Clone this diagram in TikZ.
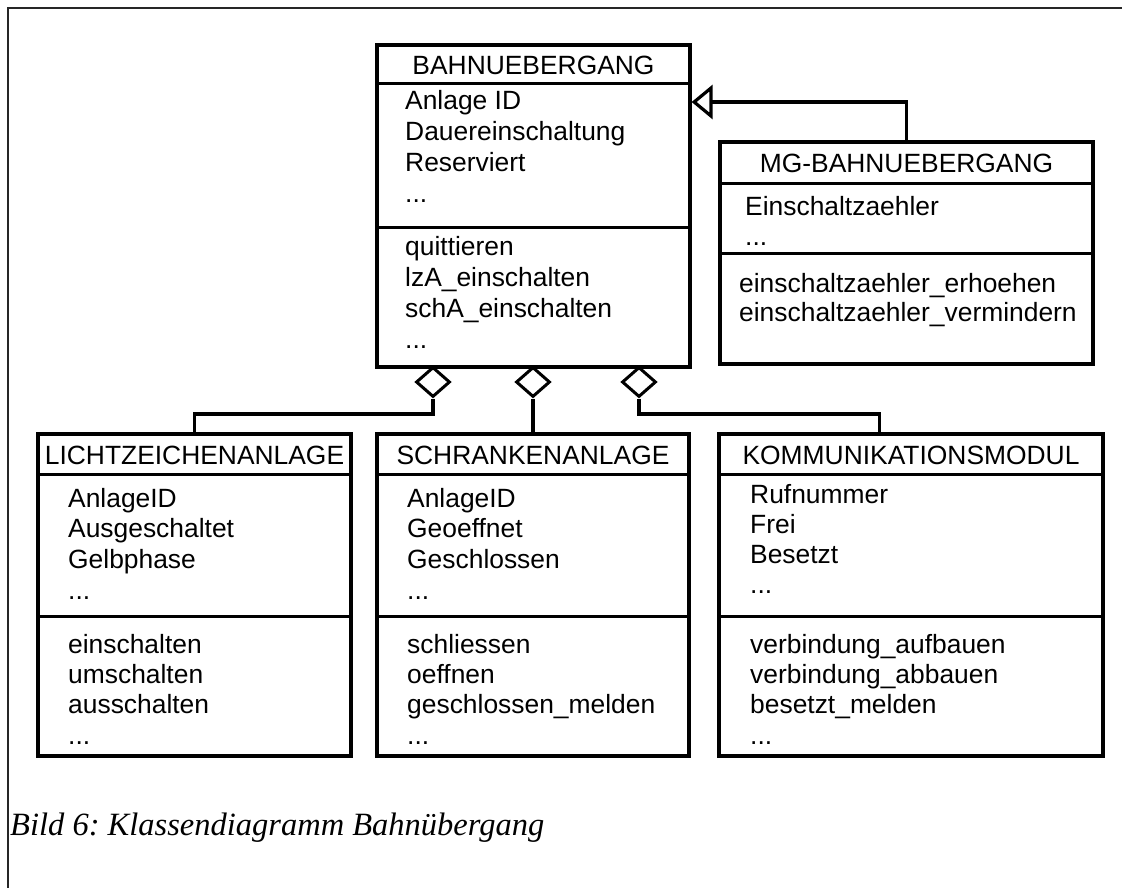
\documentclass[tikz,border=0pt]{standalone}
\usepackage{fontspec}
\setmainfont{Liberation Sans}
\newfontfamily\captionserif{Liberation Serif}
\usetikzlibrary{shapes.geometric,arrows.meta,calc}
\newcommand\moreitems{...}
\frenchspacing
\begin{document}
\begin{tikzpicture}[x=1pt,y=-1pt,
  umlclass/.style={draw, line width=3.2pt, inner sep=0pt},
  sepline/.style={line width=3pt},
  conn/.style={line width=3.2pt},
  outerline/.style={line width=1.6pt, black!85},
  itemtext/.style={anchor=base west, inner sep=0pt, font=\fontsize{26.4}{30}\selectfont},
  classname/.style={anchor=base, inner sep=0pt, font=\fontsize{26.4}{30}\selectfont},
  agg/.style={draw, shape=diamond, fill=white, line width=3pt, inner sep=0pt,
              minimum width=34pt, minimum height=30pt},
]
\useasboundingbox (0,0) rectangle (1122,888);

% page frame (top and left edges only)
\draw[outerline] (8,888) -- (8,8) -- (1122,8);

% class boxes
\node[umlclass, minimum width=313pt, minimum height=322pt] (bahn)  at (533.5,206) {};
\node[umlclass, minimum width=373pt, minimum height=222pt] (mg)    at (906.5,253) {};
\node[umlclass, minimum width=313pt, minimum height=322pt] (licht) at (194.5,595) {};
\node[umlclass, minimum width=312pt, minimum height=322pt] (schr)  at (533,595) {};
\node[umlclass, minimum width=384pt, minimum height=322pt] (komm)  at (911,595) {};

% compartment separators
\foreach \b/\ya/\yb in {bahn/84/227, mg/183/253, licht/474/616, schr/474/616, komm/474/616} {
  \draw[sepline] (\b.west |- 0,\ya) -- (\b.east |- 0,\ya);
  \draw[sepline] (\b.west |- 0,\yb) -- (\b.east |- 0,\yb);
}

% class names
\node[classname] (bahnname)  at (bahn.center  |- 0,75)  {BAHNUEBERGANG};
\node[classname] (mgname)    at (mg.center    |- 0,172) {MG-BAHNUEBERGANG};
\node[classname] (lichtname) at (licht.center |- 0,464) {LICHTZEICHENANLAGE};
\node[classname] (schrname)  at (schr.center  |- 0,464) {SCHRANKENANLAGE};
\node[classname] (kommname)  at (komm.center  |- 0,464) {KOMMUNIKATIONSMODUL};

% BAHNUEBERGANG
\foreach \t [count=\i from 0] in {Anlage ID,Dauereinschaltung,Reserviert,\moreitems}
  \node[itemtext] (bahnattr\i) at (405,110+30.7*\i) {\t};
\foreach \t [count=\i from 0] in {quittieren,lzA\_einschalten,schA\_einschalten,\moreitems}
  \node[itemtext] (bahnop\i) at (405,255+31*\i) {\t};

% MG-BAHNUEBERGANG
\foreach \t [count=\i from 0] in {Einschaltzaehler,\moreitems}
  \node[itemtext] (mgattr\i) at (745,215+30*\i) {\t};
\foreach \t [count=\i from 0] in {einschaltzaehler\_erhoehen,einschaltzaehler\_vermindern}
  \node[itemtext] (mgop\i) at (739,292+29*\i) {\t};

% LICHTZEICHENANLAGE
\foreach \t [count=\i from 0] in {AnlageID,Ausgeschaltet,Gelbphase,\moreitems}
  \node[itemtext] (lichtattr\i) at (68,507+30.8*\i) {\t};
\foreach \t [count=\i from 0] in {einschalten,umschalten,ausschalten,\moreitems}
  \node[itemtext] (lichtop\i) at (68,653+30.4*\i) {\t};

% SCHRANKENANLAGE
\foreach \t [count=\i from 0] in {AnlageID,Geoeffnet,Geschlossen,\moreitems}
  \node[itemtext] (schrattr\i) at (407,507+30.8*\i) {\t};
\foreach \t [count=\i from 0] in {schliessen,oeffnen,geschlossen\_melden,\moreitems}
  \node[itemtext] (schrop\i) at (407,653+30.4*\i) {\t};

% KOMMUNIKATIONSMODUL
\foreach \t [count=\i from 0] in {Rufnummer,Frei,Besetzt,\moreitems}
  \node[itemtext] (kommattr\i) at (750,503+30*\i) {\t};
\foreach \t [count=\i from 0] in {verbindung\_aufbauen,verbindung\_abbauen,besetzt\_melden,\moreitems}
  \node[itemtext] (kommop\i) at (750,653+30.4*\i) {\t};

% aggregation diamonds
\node[agg] (agg1) at (433,382) {};
\node[agg] (agg2) at (533,382) {};
\node[agg] (agg3) at (639,382) {};

\coordinate (kommjoin) at ($(komm.north west)+(162,0)$);

% aggregation connectors
\draw[conn] (agg1.south) -- (agg1.south |- 0,414) -| (licht.north);
\draw[conn] (agg2.south) -- (schr.north);
\draw[conn] (agg3.south) -- (agg3.south |- 0,414) -| (kommjoin);

% generalisation
\draw[conn, -{Triangle[open, length=21pt, width=34pt]}]
  (mg.north) |- (bahn.east |- 0,102);

% caption
\node[anchor=base west, inner sep=0pt,
      font=\captionserif\itshape\fontsize{32.5}{38}\selectfont] (caption)
  at (10,835) {Bild 6: Klassendiagramm Bahnübergang};
\end{tikzpicture}
\end{document}
